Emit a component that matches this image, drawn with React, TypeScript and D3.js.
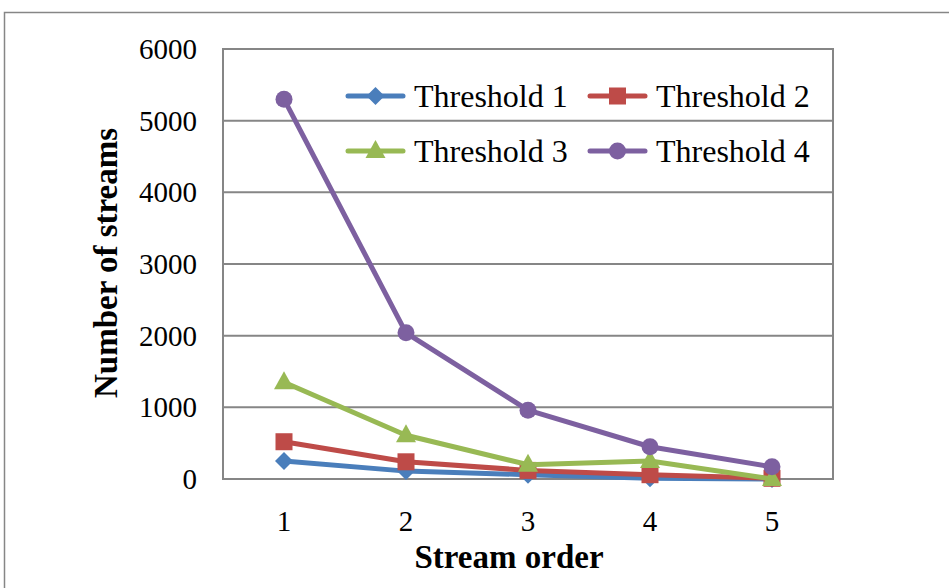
import React from "react";
import * as d3 from "d3";

const categories = [1, 2, 3, 4, 5];
const threshold1 = [250, 110, 60, 10, 0];
const threshold2 = [520, 240, 120, 60, 10];
const threshold3 = [1350, 610, 200, 250, 0];
const threshold4 = [5300, 2040, 960, 450, 170];
const yTicks = [0, 1000, 2000, 3000, 4000, 5000, 6000];
const seriesNames = ["Threshold 1", "Threshold 2", "Threshold 3", "Threshold 4"];
const seriesColors = ["#4A7EBB", "#BE4B48", "#98B954", "#7D60A0"];
const seriesMarkers = ["diamond", "square", "triangle", "circle"];

const W = 949, H = 588;
const plot = { left: 223, right: 833, top: 49, bottom: 479 };

function Marker({ type, x, y, color }: { type: string; x: number; y: number; color: string }) {
  if (type === "diamond") {
    const s = 9;
    return <path d={`M${x},${y - s}L${x + s},${y}L${x},${y + s}L${x - s},${y}Z`} fill={color} />;
  }
  if (type === "square") {
    const s = 8.5;
    return <rect x={x - s} y={y - s} width={2 * s} height={2 * s} fill={color} />;
  }
  if (type === "triangle") {
    return <path d={`M${x},${y - 11}L${x + 10},${y + 7}L${x - 10},${y + 7}Z`} fill={color} />;
  }
  return <circle cx={x} cy={y} r={8.5} fill={color} />;
}

export default function App() {
  const x = d3.scaleBand<number>().domain(categories).range([plot.left, plot.right]);
  const xc = (c: number) => (x(c) as number) + x.bandwidth() / 2;
  const y = d3.scaleLinear().domain([0, 6000]).range([plot.bottom, plot.top]);
  const data = [threshold1, threshold2, threshold3, threshold4];
  const line = d3.line<number>().x((_, i) => xc(categories[i])).y((v) => y(v));
  const font = "'Liberation Serif', 'Times New Roman', serif";
  const legendPos = [
    { lx: 348, ly: 96 },
    { lx: 590, ly: 96 },
    { lx: 348, ly: 151 },
    { lx: 590, ly: 151 },
  ];
  return (
    <svg width={W} height={H} style={{ position: "absolute", left: 0, top: 0, background: "#fff" }} fontFamily={font}>
      <rect x={4.5} y={12.5} width={W + 10} height={H + 10} fill="#fff" stroke="#868686" strokeWidth={1.5} />
      {yTicks.map((t) => (
        <g key={t}>
          <line x1={plot.left} x2={plot.right} y1={y(t)} y2={y(t)} stroke="#868686" strokeWidth={2} />
          <text x={197} y={y(t)} dy="0.35em" textAnchor="end" fontSize={29}>{t}</text>
        </g>
      ))}
      <rect x={plot.left} y={plot.top} width={plot.right - plot.left} height={plot.bottom - plot.top} fill="none" stroke="#868686" strokeWidth={2} />
      {categories.map((c) => (
        <text key={c} x={xc(c)} y={521} dy="0.35em" textAnchor="middle" fontSize={29}>{c}</text>
      ))}
      <text x={509} y={556} dy="0.35em" textAnchor="middle" fontSize={33} fontWeight="bold">Stream order</text>
      <text transform={`translate(105,263) rotate(-90)`} dy="0.35em" textAnchor="middle" fontSize={33} fontWeight="bold">Number of streams</text>
      {data.map((s, i) => (
        <g key={i}>
          <path d={line(s) as string} fill="none" stroke={seriesColors[i]} strokeWidth={5} strokeLinejoin="round" strokeLinecap="round" />
          {s.map((v, j) => (
            <Marker key={j} type={seriesMarkers[i]} x={xc(categories[j])} y={y(v)} color={seriesColors[i]} />
          ))}
        </g>
      ))}
      {seriesNames.map((n, i) => {
        const p = legendPos[i];
        return (
          <g key={n}>
            <line x1={p.lx} x2={p.lx + 55} y1={p.ly} y2={p.ly} stroke={seriesColors[i]} strokeWidth={5} strokeLinecap="round" />
            <Marker type={seriesMarkers[i]} x={p.lx + 27.5} y={p.ly} color={seriesColors[i]} />
            <text x={p.lx + 66} y={p.ly} dy="0.35em" fontSize={32}>{n}</text>
          </g>
        );
      })}
    </svg>
  );
}
